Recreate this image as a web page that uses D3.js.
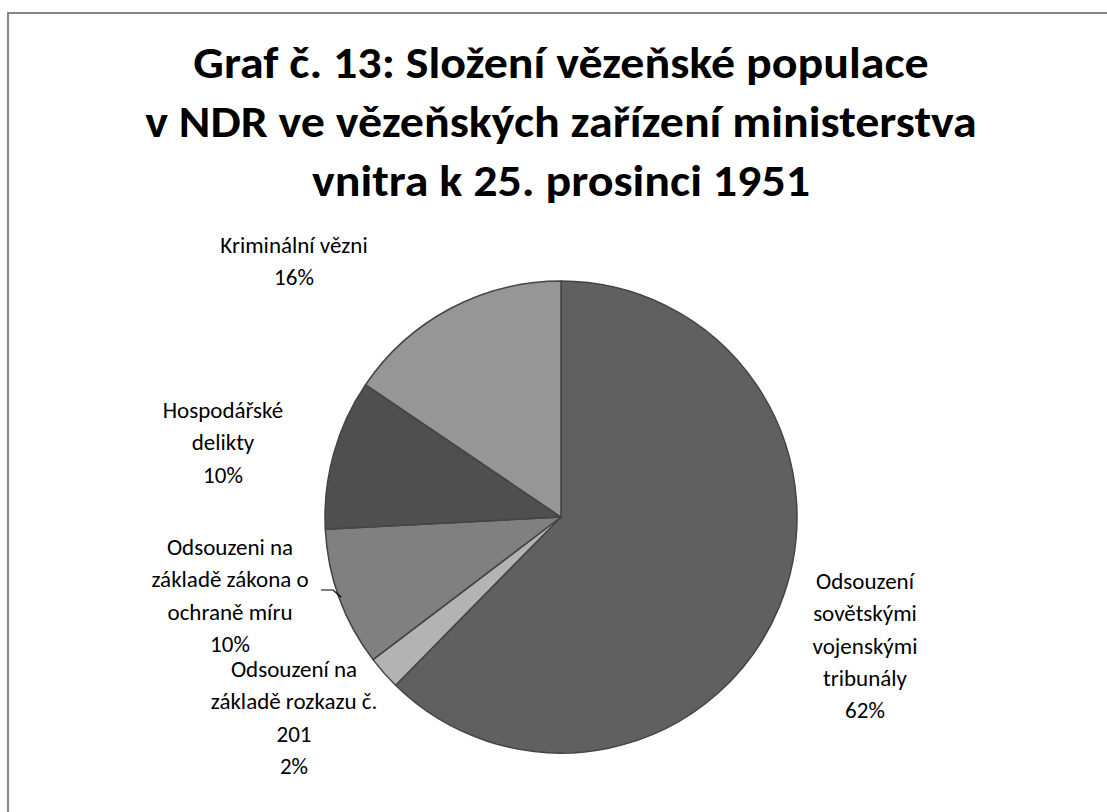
<!DOCTYPE html>
<html>
<head>
<meta charset="utf-8">
<script src="https://cdn.jsdelivr.net/npm/d3@7"></script>
<style>
  body { margin: 0; background: white; }
  text { font-family: Carlito, Calibri, Lato, sans-serif; fill: #000; }
</style>
</head>
<body>
<div id="viz"></div>
<script>
// data (shares of the prison population)
const categories = [
  "Odsouzení sovětskými vojenskými tribunály",
  "Odsouzení na základě rozkazu č. 201",
  "Odsouzeni na základě zákona o ochraně míru",
  "Hospodářské delikty",
  "Kriminální vězni"
];
const values = [62.36, 2.31, 9.51, 10.29, 15.53];
const labelLines = [
  ["Odsouzení", "sovětskými", "vojenskými", "tribunály"],
  ["Odsouzení na", "základě rozkazu č.", "201"],
  ["Odsouzeni na", "základě zákona o", "ochraně míru"],
  ["Hospodářské", "delikty"],
  ["Kriminální vězni"]
];
const percentLabels = ["62%", "2%", "10%", "10%", "16%"];
const titleLines = [
  "Graf č. 13: Složení vězeňské populace",
  "v NDR ve vězeňských zařízení ministerstva",
  "vnitra k 25. prosinci 1951"
];

const width = 1107;
const height = 812;
const cx = 561, cy = 517, radius = 236;
const fills = ["#606060", "#b3b3b3", "#808080", "#4f4f4f", "#969696"];
// label block positions (center x, first baseline y)
const labelPos = [[865, 589], [294, 677], [230, 555], [223, 418], [294, 253]];
const lineStep = 32.3;

const svg = d3.select("#viz").append("svg")
    .attr("width", width)
    .attr("height", height);

// outer chart frame (runs off the right and bottom edge)
svg.append("rect")
    .attr("x", 8).attr("y", 13)
    .attr("width", 1200).attr("height", 900)
    .attr("fill", "white")
    .attr("stroke", "#868686")
    .attr("stroke-width", 2);

const titleScale = 1.09;
svg.append("g").selectAll("text")
  .data(titleLines)
  .enter().append("text")
    .attr("x", cx)
    .attr("y", (d, i) => 78 + i * 59)
    .attr("text-anchor", "middle")
    .style("font-weight", "bold")
    .style("font-size", "44px")
    .text(d => d)
    .each(function() {
      const w = this.getComputedTextLength();
      d3.select(this)
        .attr("textLength", w * titleScale)
        .attr("lengthAdjust", "spacingAndGlyphs");
    });

const pie = d3.pie().sort(null).value(d => d);
const arc = d3.arc().innerRadius(0).outerRadius(radius);
const arcs = pie(values);

const g = svg.append("g").attr("transform", `translate(${cx},${cy})`);
g.selectAll("path")
  .data(arcs)
  .enter().append("path")
    .attr("d", arc)
    .attr("fill", (d, i) => fills[i])
    .attr("stroke", "#444")
    .attr("stroke-width", 1.5)
    .attr("stroke-linejoin", "round");

// leader line for the peace-protection label
const mid = (arcs[2].startAngle + arcs[2].endAngle) / 2;
const ex = cx + (radius - 2) * Math.sin(mid), ey = cy - (radius - 2) * Math.cos(mid);
svg.append("path")
    .attr("d", `M321,590 L333,590 L${ex},${ey}`)
    .attr("fill", "none")
    .attr("stroke", "#000")
    .attr("stroke-width", 1.2);

const labels = svg.append("g");
categories.forEach((c, i) => {
  const lines = labelLines[i].concat([percentLabels[i]]);
  labels.append("text")
      .attr("text-anchor", "middle")
      .style("font-size", "23px")
    .selectAll("tspan")
    .data(lines)
    .enter().append("tspan")
      .attr("x", labelPos[i][0])
      .attr("y", (d, k) => labelPos[i][1] + k * lineStep)
      .text(d => d);
});
</script>
</body>
</html>
